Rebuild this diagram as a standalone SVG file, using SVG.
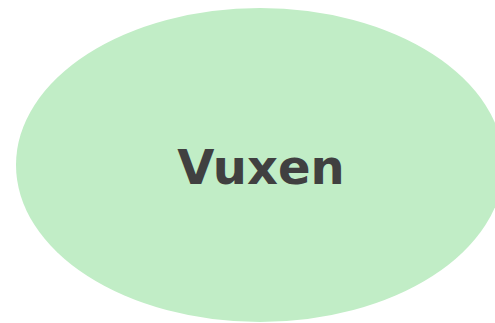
<svg xmlns="http://www.w3.org/2000/svg" width="495" height="323" viewBox="0 0 495 323">
<style>
.node-shape{fill:#c1edc6;stroke:none}
.node-label{font-family:"DejaVu Sans",Verdana,sans-serif;font-weight:bold;font-size:48px;fill:#404040;text-anchor:middle}
</style>
<rect width="495" height="323" fill="#ffffff"/>
<g id="connectors"></g>
<g id="node-vuxen">
<ellipse class="node-shape" cx="260" cy="165" rx="244" ry="157"/>
<text class="node-label" x="261" y="184">Vuxen</text>
</g>
</svg>
